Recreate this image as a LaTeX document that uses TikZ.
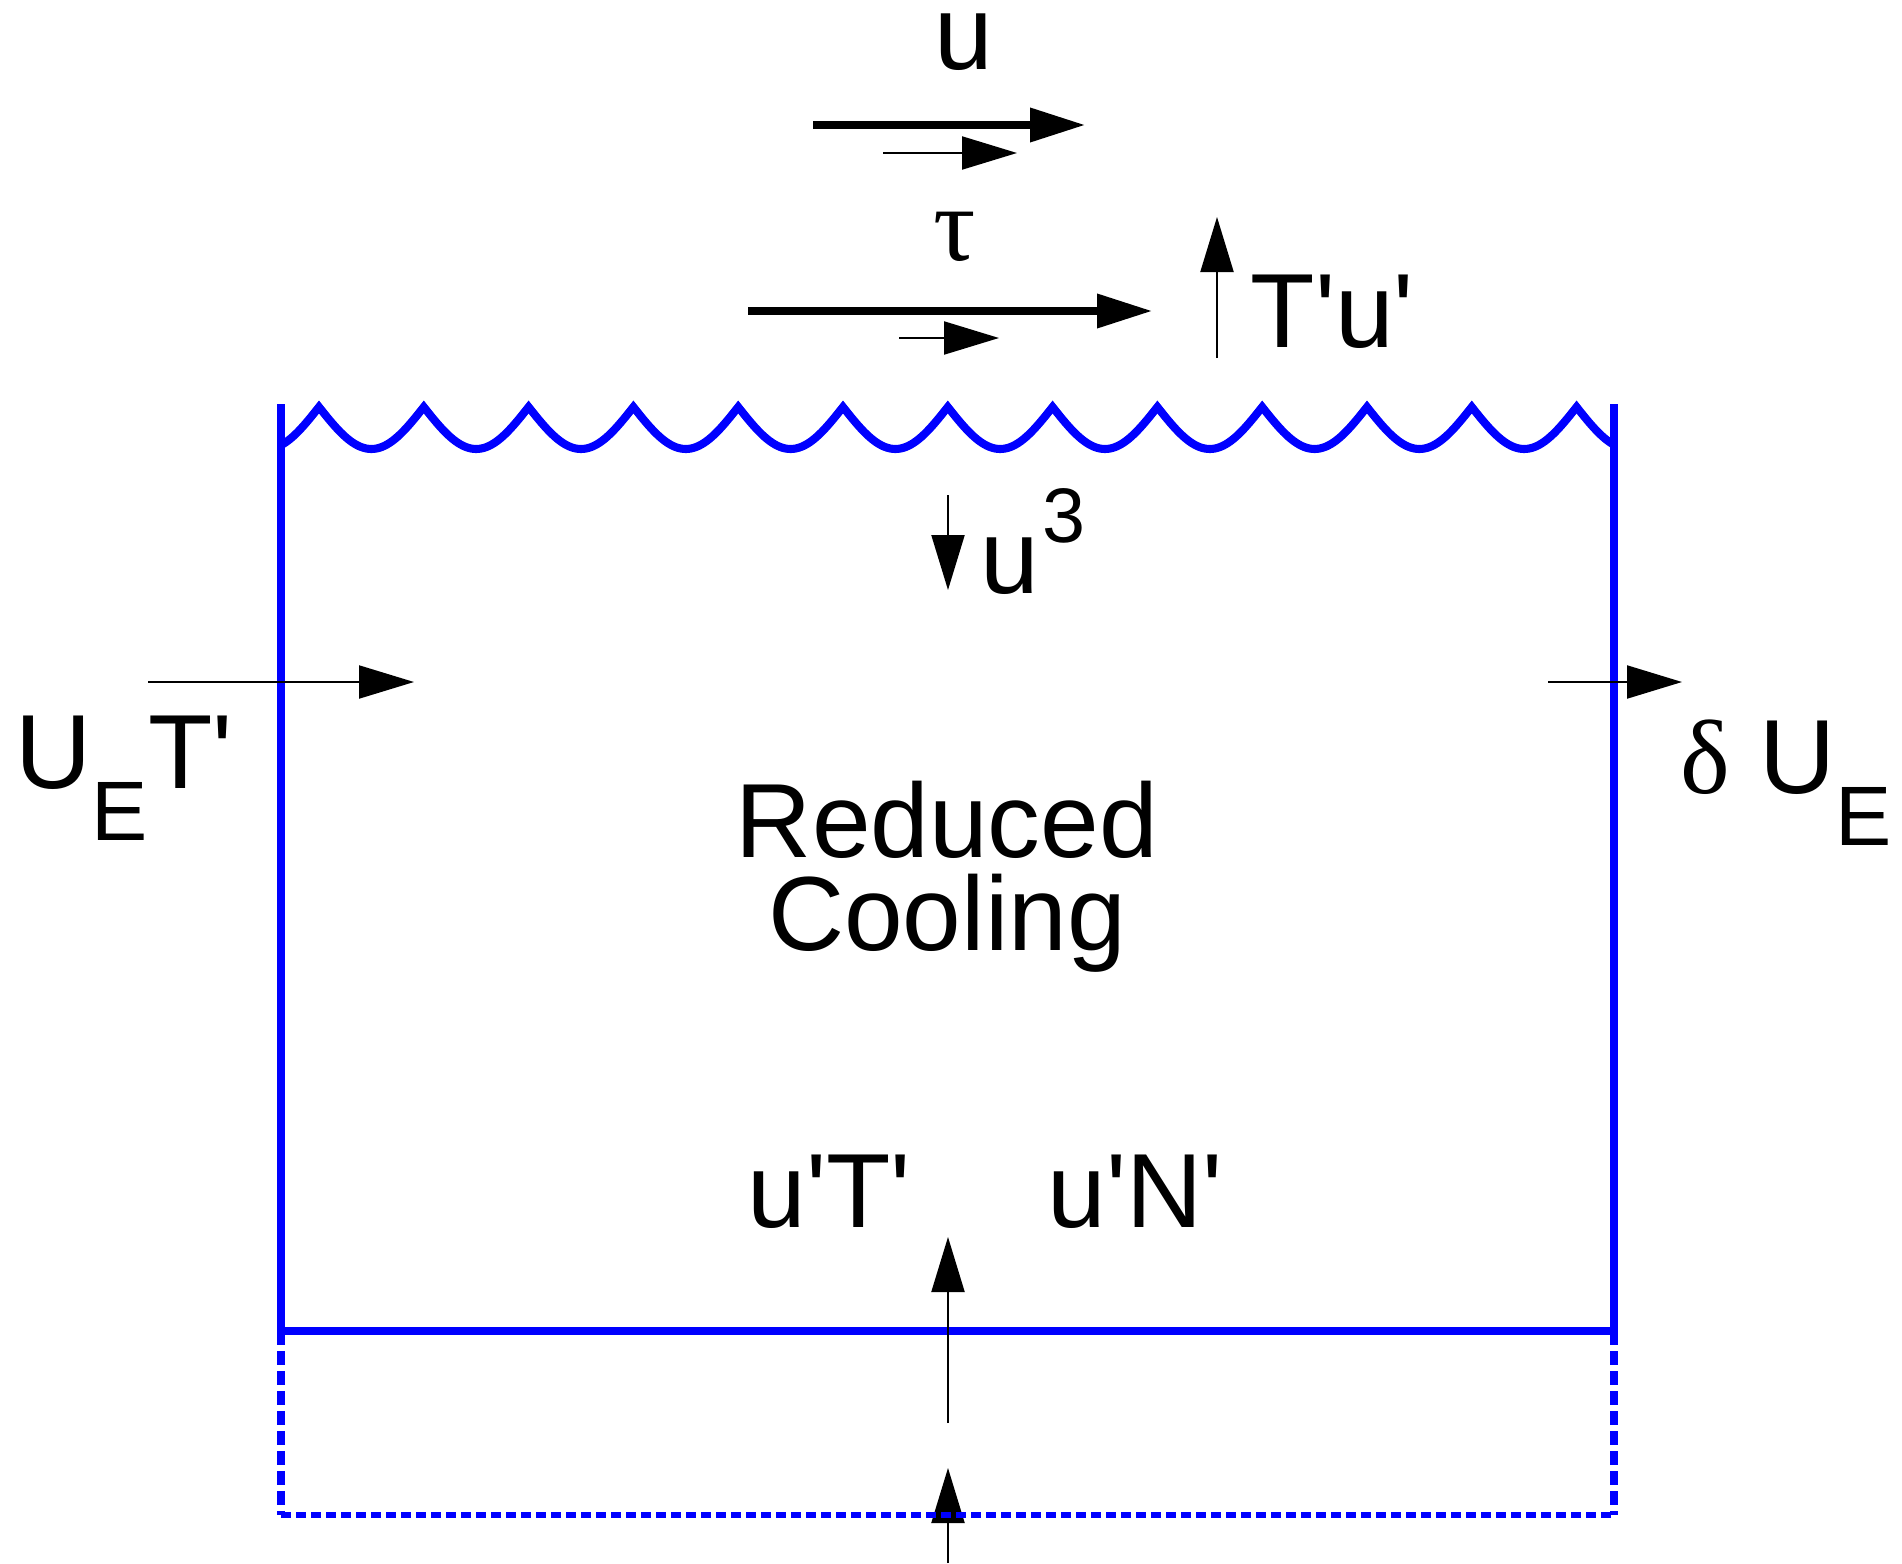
\documentclass[tikz,border=0pt]{standalone}
\usepackage{fontspec}
\setmainfont{Liberation Sans}
\newfontfamily\greekfont{Liberation Serif}
\usetikzlibrary{arrows.meta}
\newcommand{\qs}{\textquotesingle}

\begin{document}
\begin{tikzpicture}[
  flux/.style={-{Triangle[length=5.5mm,width=3.3mm]},line width=0.6pt},
  bigflux/.style={flux,line width=2pt},
  wall/.style={blue,line width=2.5pt},
  label/.style={inner sep=0pt,font=\fontsize{30}{36}\selectfont}
]
  \useasboundingbox (0,0) rectangle (19.02,15.63);

  % Box walls
  \draw[wall] (2.81,11.59) -- (2.81,2.32) -- (16.14,2.32) -- (16.14,11.59);

  % Wavy surface
  \draw[blue,line width=2.3pt,variable=\x,domain=2.797:16.159,samples=511]
    plot ({\x},{11.14+0.42*(1-abs(sin(171.76*(\x-3.19))))});

  % Lower layer
  \draw[wall,dash pattern=on 0.14cm off 0.06cm] (2.81,2.32) -- (2.81,0.48);
  \draw[wall,dash pattern=on 0.14cm off 0.06cm] (16.14,2.32) -- (16.14,0.48);

  % Arrow ends
  \coordinate (uA) at (8.13,14.38);    \coordinate (uB) at (10.85,14.38);
  \coordinate (ua) at (8.83,14.10);    \coordinate (ub) at (10.17,14.10);
  \coordinate (tauA) at (7.48,12.52);  \coordinate (tauB) at (11.52,12.52);
  \coordinate (taua) at (8.99,12.25);  \coordinate (taub) at (9.99,12.25);
  \coordinate (TuA) at (12.17,12.05);  \coordinate (TuB) at (12.17,13.46);
  \coordinate (u3A) at (9.48,10.68);   \coordinate (u3B) at (9.48,9.73);
  \coordinate (inA) at (1.48,8.81);    \coordinate (inB) at (4.14,8.81);
  \coordinate (outA) at (15.48,8.81);  \coordinate (outB) at (16.82,8.81);
  \coordinate (upA) at (9.48,1.40);    \coordinate (upB) at (9.48,3.26);
  \coordinate (botA) at (9.48,0);      \coordinate (botB) at (9.48,0.95);

  % Fluxes
  \draw[bigflux] (uA) -- (uB);
  \draw[flux] (ua) -- (ub);
  \draw[bigflux] (tauA) -- (tauB);
  \draw[flux] (taua) -- (taub);
  \draw[flux] (TuA) -- (TuB);
  \draw[flux] (u3A) -- (u3B);
  \draw[flux] (inA) -- (inB);
  \draw[flux] (outA) -- (outB);
  \draw[flux] (upA) -- (upB);
  \draw[flux] (botA) -- (botB);

  % Bottom of lower layer
  \draw[blue,line width=1.5pt,dash pattern=on 0.1cm off 0.05cm] (2.81,0.48) -- (16.14,0.48);

  % Labels
  \node[label,anchor=base] (u) at (9.64,14.93) {u};
  \node[label,anchor=base] (tau) at (9.55,13.03) {\greekfont τ};
  \node[label,anchor=base west] (Tu) at (12.50,12.16) {T\qs u\qs};
  \node[label,anchor=base west] (u3) at (9.80,9.70)
    {u\hspace{0.03cm}\raisebox{0.51cm}{\fontsize{22}{26}\selectfont 3}};
  \node[label,anchor=base west] (inflow) at (0.15,7.75)
    {U\raisebox{-0.52cm}{\fontsize{24}{28}\selectfont E}T\qs};
  \node[label,anchor=base west] (outflow) at (16.80,7.70)
    {{\greekfont δ} U\raisebox{-0.52cm}{\fontsize{24}{28}\selectfont E}};
  \node[label,anchor=base] (reduced) at (9.47,7.06) {Reduced};
  \node[label,anchor=base] (cooling) at (9.47,6.13) {Cooling};
  \node[label,anchor=base west] (uT) at (7.47,3.36) {u\qs T\qs};
  \node[label,anchor=base west] (uN) at (10.47,3.36) {u\qs N\qs};
\end{tikzpicture}
\end{document}
